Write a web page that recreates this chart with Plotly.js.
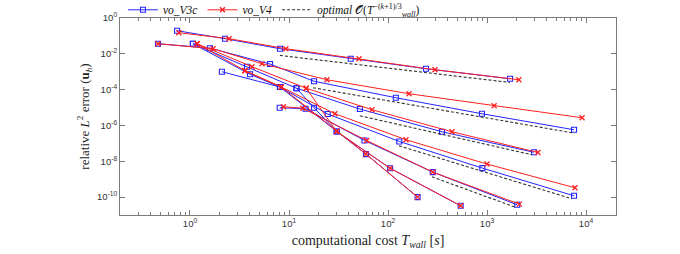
<!DOCTYPE html>
<html>
<head>
<meta charset="utf-8">
<script src="https://cdn.plot.ly/plotly-3.0.1.min.js"></script>
<style>html,body{margin:0;padding:0;background:#fff;}#plot{width:680px;height:254px;}</style>
</head>
<body>
<div id="plot"></div>
<script>
// ---- data (T_wall [s], relative L2 error) ----
const v3c_1_T = [0.74, 2.26, 8.1, 42, 242, 1710];
const v3c_1_E = [0.195, 0.070, 0.0193, 5.3e-3, 1.47e-3, 4.06e-4];
const v3c_2_T = [0.475, 1.59, 6.43, 17.9, 120, 890, 7570];
const v3c_2_E = [0.0367, 0.0206, 2.69e-3, 2.95e-4, 3.53e-5, 4.51e-6, 5.75e-7];
const v3c_3_T = [1.07, 3.76, 11.9, 52, 351, 2985];
const v3c_3_E = [0.0367, 1.90e-3, 1.20e-4, 8.24e-6, 4.45e-7, 3.18e-8];
const v3c_4_T = [2.10, 8.1, 24.6, 130, 897, 7570];
const v3c_4_E = [1.0e-3, 1.40e-4, 4.34e-6, 1.28e-7, 4.17e-9, 1.18e-10];
const v3c_5_T = [8.05, 14.7, 57.9, 283, 2020];
const v3c_5_E = [9.75e-6, 8.57e-6, 1.45e-7, 2.49e-9, 3.71e-11];
const v3c_6_T = [1.07, 4.04, 8.1, 30.3, 59.9, 199];
const v3c_6_E = [0.0367, 7.25e-4, 1.40e-4, 4.62e-7, 2.52e-8, 1.0e-10];
const v3c_7_T = [11.9, 17.9, 30.3, 105, 542];
const v3c_7_E = [1.2e-4, 9.75e-6, 4.62e-7, 4.06e-9, 3.27e-11];

const v4_1_T = [0.77, 2.48, 9.3, 51, 298, 2100];
const v4_1_E = [0.151, 0.070, 0.0193, 5.3e-3, 1.29e-3, 3.57e-4];
const v4_2_T = [0.475, 1.71, 5.34, 24.2, 163, 1180, 9120];
const v4_2_E = [0.0367, 0.0193, 2.80e-3, 3.57e-4, 5.9e-5, 1.26e-5, 2.69e-6];
const v4_3_T = [1.18, 4.23, 14.9, 69, 443, 3270];
const v4_3_E = [0.0367, 1.90e-3, 1.20e-4, 7.53e-6, 4.45e-7, 3.10e-8];
const v4_4_T = [3.59, 8.36, 29.1, 152, 1000, 7750];
const v4_4_E = [1.14e-3, 1.40e-4, 4.51e-6, 1.59e-7, 6.98e-9, 3.31e-10];
const v4_5_T = [8.8, 13.8, 60.9, 283, 2120];
const v4_5_E = [1.11e-5, 9.14e-6, 1.45e-7, 2.49e-9, 4.06e-11];
const v4_6_T = [1.18, 3.59, 8.36, 30.3, 59.9, 199];
const v4_6_E = [0.0367, 1.14e-3, 1.40e-4, 4.62e-7, 2.52e-8, 1.0e-10];
const v4_7_T = [14.9, 30.3, 105, 542];
const v4_7_E = [1.2e-4, 4.62e-7, 4.06e-9, 3.27e-11];

const opt_1_T = [8.1, 1710];   const opt_1_E = [8.14e-3, 2.52e-4];
const opt_2_T = [17.5, 7220];  const opt_2_E = [1.28e-4, 3.91e-7];
const opt_3_T = [52, 2850];    const opt_3_E = [3.48e-6, 2.31e-8];
const opt_4_T = [129, 7220];   const opt_4_E = [7.34e-8, 8.03e-11];
const opt_5_T = [278, 1918];   const opt_5_E = [1.36e-9, 2.76e-11];

const xTickVals = [1, 10, 100, 1000, 10000];
const xTickText = ['10<sup>0</sup>', '10<sup>1</sup>', '10<sup>2</sup>', '10<sup>3</sup>', '10<sup>4</sup>'];
const yTickVals = [1e-10, 1e-8, 1e-6, 1e-4, 1e-2, 1];
const yTickText = ['10<sup>-10</sup>', '10<sup>-8</sup>', '10<sup>-6</sup>', '10<sup>-4</sup>', '10<sup>-2</sup>', '10<sup>0</sup>'];

const legendNames = ['<i>vo_V3c</i>', '<i>vo_V4</i>', '<i>optimal</i> 𝒪(<i>T</i><sup>−(<i>k</i>+1)/3</sup><sub><i>wall</i></sub>)'];

// ---- traces ----
const BLUE = '#2424ff', RED = '#ff2020', DASH = '#333333';
const traces = [];
const v3c = [[v3c_1_T,v3c_1_E],[v3c_2_T,v3c_2_E],[v3c_3_T,v3c_3_E],[v3c_4_T,v3c_4_E],[v3c_5_T,v3c_5_E],[v3c_6_T,v3c_6_E],[v3c_7_T,v3c_7_E]];
const v4 = [[v4_1_T,v4_1_E],[v4_2_T,v4_2_E],[v4_3_T,v4_3_E],[v4_4_T,v4_4_E],[v4_5_T,v4_5_E],[v4_6_T,v4_6_E],[v4_7_T,v4_7_E]];
const opt = [[opt_1_T,opt_1_E],[opt_2_T,opt_2_E],[opt_3_T,opt_3_E],[opt_4_T,opt_4_E],[opt_5_T,opt_5_E]];

v3c.forEach((s, i) => traces.push({
  x: s[0], y: s[1], type: 'scatter', mode: 'lines+markers',
  name: legendNames[0], legendgroup: 'a', showlegend: i === 0, legendrank: 1,
  line: {color: BLUE, width: 1},
  marker: {symbol: 'square-open', size: 5, color: BLUE, line: {width: 1.1, color: BLUE}}
}));
v4.forEach((s, i) => traces.push({
  x: s[0], y: s[1], type: 'scatter', mode: 'lines+markers',
  name: legendNames[1], legendgroup: 'b', showlegend: i === 0, legendrank: 2,
  line: {color: RED, width: 1},
  marker: {symbol: 'x-thin-open', size: 5, color: RED, line: {width: 1.3, color: RED}}
}));
opt.forEach((s, i) => traces.push({
  x: s[0], y: s[1], type: 'scatter', mode: 'lines',
  name: legendNames[2], legendgroup: 'c', showlegend: i === 0, legendrank: 3,
  line: {color: DASH, width: 1.1, dash: '3px,2px'}
}));

const axisCommon = {
  type: 'log', showgrid: false, zeroline: false,
  showline: true, linecolor: '#7a7a7a', linewidth: 1, mirror: 'ticks',
  ticks: 'inside', ticklen: 5, tickcolor: '#7a7a7a', tickwidth: 1,
  tickmode: 'array',
  tickfont: {family: 'Liberation Sans, Arial, sans-serif', size: 9.5, color: '#333'}
};

const layout = {
  width: 680, height: 254,
  margin: {l: 120, r: 64, t: 18, b: 39, autoexpand: false},
  paper_bgcolor: '#fff', plot_bgcolor: '#fff',
  showlegend: true,
  legend: {
    orientation: 'h', x: 0.006, xanchor: 'left', y: 0.968, yanchor: 'bottom',
    font: {family: 'Liberation Serif, serif', size: 11.5, color: '#111'},
    bgcolor: 'rgba(0,0,0,0)', traceorder: 'normal', itemwidth: 30
  },
  xaxis: Object.assign({}, axisCommon, {
    range: [-0.707, 4.303],
    tickvals: xTickVals, ticktext: xTickText,
    minor: {dtick: 'D1', ticks: 'inside', ticklen: 3, tickcolor: '#7a7a7a', showgrid: false},
    title: {text: 'computational cost <i>T<sub>wall</sub></i> [<i>s</i>]', standoff: 6,
            font: {family: 'Liberation Serif, serif', size: 14, color: '#222'}}
  }),
  yaxis: Object.assign({}, axisCommon, {
    range: [-11, 0],
    tickvals: yTickVals, ticktext: yTickText,
    title: {text: 'relative <i>L</i><sup>2</sup> error (<b>u</b><sub><i>h</i></sub>)', standoff: 4,
            font: {family: 'Liberation Serif, serif', size: 13, color: '#222'}}
  })
};

Plotly.newPlot('plot', traces, layout, {displayModeBar: false, staticPlot: true});
</script>
</body>
</html>
